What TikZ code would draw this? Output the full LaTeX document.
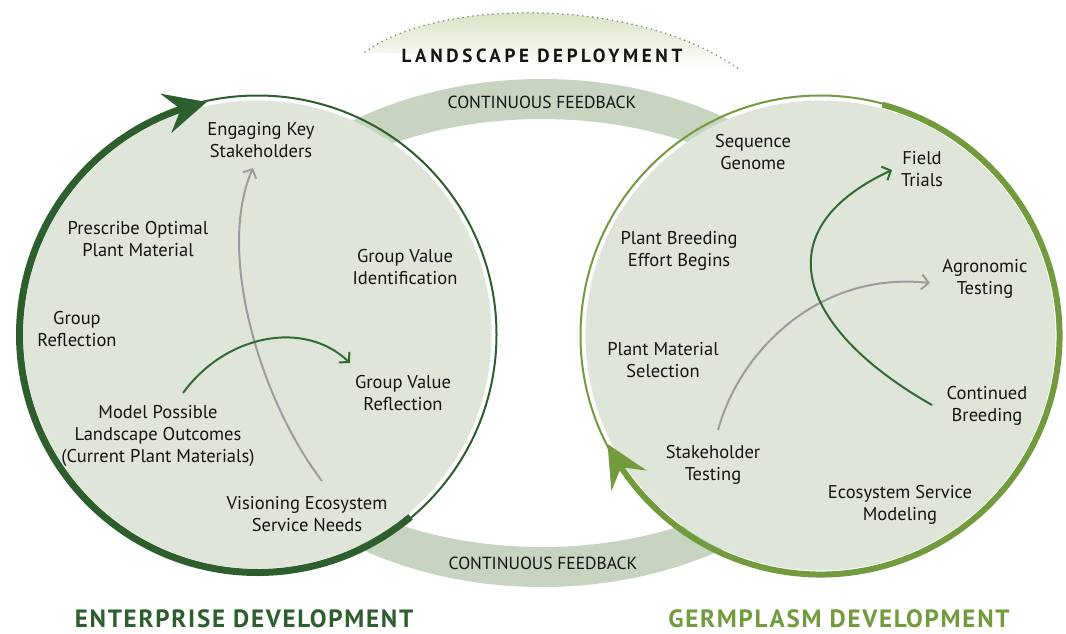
\documentclass[tikz,border=0pt]{standalone}
\usepackage{fontspec}
\setmainfont{PT Sans}
\newfontfamily\headfont[LetterSpace=7]{PT Sans}
\newfontfamily\deployfont[LetterSpace=19]{PT Sans}
\usetikzlibrary{arrows.meta,bending,positioning}

\definecolor{sage}{HTML}{DFE6D9}
\definecolor{bandgreen}{HTML}{C7D4BF}
\definecolor{darkleaf}{HTML}{2C5F2D}
\definecolor{lightleaf}{HTML}{729B3E}
\definecolor{flowgray}{HTML}{9B9BA0}
\definecolor{flowgreen}{HTML}{2F6B32}
\definecolor{ink}{HTML}{141414}
\definecolor{dotgray}{HTML}{7E8C76}
\definecolor{haze}{HTML}{CFDDB6}

\begin{document}
\begin{tikzpicture}[x=1pt,y=-1pt,
  every node/.style={text=ink,align=center,inner sep=0pt},
  stage/.style={font=\fontsize{18.5}{22}\selectfont},
  feedback/.style={font=\fontsize{17.5}{20}\selectfont},
  heading/.style={font=\headfont\bfseries\fontsize{25}{28}\selectfont},
  deploy/.style={font=\deployfont\bfseries\fontsize{19}{22}\selectfont},
  grayflow/.style={draw=flowgray,line width=2pt,-{Straight Barb[length=7pt,width=15pt]}},
  greenflow/.style={draw=flowgreen,line width=2pt,-{Straight Barb[length=7pt,width=15pt]}},
  bigtip/.style={-{Stealth[length=42pt,width=40pt,inset=15pt,flex]}}]
  \useasboundingbox (0,0) rectangle (1066,633);

  % landscape deployment arc
  \shade[top color=haze,bottom color=white]
    (365,52) .. controls (440,-3) and (640,-3) .. (740,70) -- cycle;
  \draw[dotgray,line width=1.8pt,line cap=round,dash pattern=on 0pt off 5pt]
    (365,52) .. controls (440,-3) and (640,-3) .. (740,70);
  \node[deploy] (landscape) at (542,56) {LANDSCAPE DEPLOYMENT};

  % feedback band
  \fill[bandgreen,even odd rule] (542,333) ellipse[x radius=345,y radius=254]
                                 (542,333) ellipse[x radius=321,y radius=214];
  \node[feedback] (fbtop) at (542,102) {CONTINUOUS FEEDBACK};
  \node[feedback] (fbbottom) at (543,563) {CONTINUOUS FEEDBACK};

  % the two cycles
  \fill[sage] (257.5,334.5) circle[radius=234];
  \fill[sage] (820.5,335.5) circle[radius=235];
  \draw[darkleaf,line width=2pt] (257.5,334.5) circle[radius=239];
  \draw[lightleaf,line width=2pt] (820.5,335.5) circle[radius=240];
  \draw[darkleaf,line width=7pt,bigtip]
    (257.5,334.5) ++(50:238) arc[start angle=50,end angle=257.7,radius=238];
  \draw[lightleaf,line width=6pt,bigtip]
    (820.5,335.5) ++(-75:239) arc[start angle=-75,end angle=153,radius=239];

  % enterprise development
  \node[stage] (engage)   at (261,140) {Engaging Key\\Stakeholders};
  \node[stage] (prescribe) at (138,239) {Prescribe Optimal\\Plant Material};
  \node[stage] (reflect)  at (77,329)  {Group\\Reflection};
  \node[stage] (identify) at (405,267) {Group Value\\Identification};
  \node[stage] (valuerefl) at (403,393) {Group Value\\Reflection};
  \node[stage] (model)    at (158,436) {Model Possible\\Landscape Outcomes\\(Current Plant Materials)};
  \node[stage] (vision)   at (307,514) {Visioning Ecosystem\\Service Needs};

  % germplasm development
  \node[stage] (genome)   at (753,152) {Sequence\\Genome};
  \node[stage] (field)    at (922,169) {Field\\Trials};
  \node[stage] (breedgo)  at (679,251) {Plant Breeding\\Effort Begins};
  \node[stage] (agro)     at (985,279) {Agronomic\\Testing};
  \node[stage] (select)   at (663,360) {Plant Material\\Selection};
  \node[stage] (breedon)  at (987,406) {Continued\\Breeding};
  \node[stage] (shtest)   at (713,465) {Stakeholder\\Testing};
  \node[stage] (ecomodel) at (900,505) {Ecosystem Service\\Modeling};

  % flows inside the cycles
  \draw[grayflow] ([shift={(15,-33)}]vision.center)
    .. controls (260,400) and (215,250) .. ([shift={(-8,28)}]engage.center);
  \draw[greenflow] ([shift={(25,-43)}]model.center)
    .. controls (225,335) and (305,318) .. ([shift={(-53,-30)}]valuerefl.center);
  \draw[grayflow] ([shift={(5,-35)}]shtest.center)
    .. controls (740,350) and (820,270) .. ([shift={(-55,4)}]agro.center);
  \draw[greenflow] ([shift={(-55,-1)}]breedon.center)
    .. controls (800,330) and (760,230) .. ([shift={(-30,1)}]field.center);

  % headings
  \node[heading,text=darkleaf] (enterprise) at (244,619) {ENTERPRISE DEVELOPMENT};
  \node[heading,text=lightleaf] (germplasm) at (839,619) {GERMPLASM DEVELOPMENT};
\end{tikzpicture}
\end{document}
